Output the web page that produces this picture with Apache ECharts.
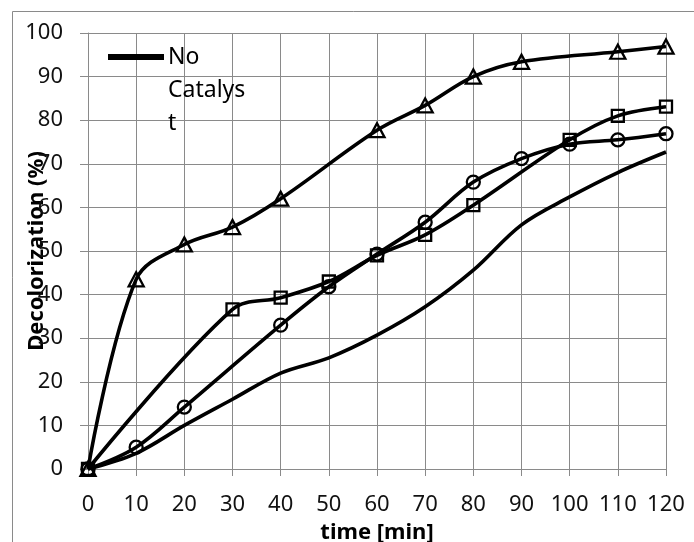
<!DOCTYPE html>
<html>
<head>
<meta charset="utf-8">
<script src="https://cdn.jsdelivr.net/npm/echarts@6/dist/echarts.min.js"></script>
<style>
  html, body { margin: 0; padding: 0; background: #fff; }
  #chart { width: 694px; height: 542px; }
</style>
</head>
<body>
<div id="chart"></div>
<script>
// Sampling times (min)
const timeNoCat = [0, 10, 20, 30, 40, 50, 60, 70, 80, 90, 100, 110, 120];
const noCatalyst = [0, 3.6, 10, 16, 22, 25.5, 30.7, 37.2, 45.6, 56, 62.4, 68, 72.7];

const timeTri = [0, 10, 20, 30, 40, 60, 70, 80, 90, 110, 120];
const triValues = [0, 43.5, 51.5, 55.5, 62, 77.7, 83.4, 90, 93.4, 95.7, 96.9];

const timeSq = [0, 30, 40, 50, 60, 70, 80, 100, 110, 120];
const sqValues = [0, 36.6, 39.3, 43, 49, 53.7, 60.5, 75.5, 81, 83.1];

const timeCirc = [0, 10, 20, 40, 50, 60, 70, 80, 90, 100, 110, 120];
const circValues = [0, 5, 14.2, 33, 41.8, 49.3, 56.6, 65.8, 71.2, 74.5, 75.5, 76.9];

const xTicks = { min: 0, max: 120, step: 10 };
const yTicks = { min: 0, max: 100, step: 10 };

const pairs = (xs, ys) => xs.map((x, i) => [x, ys[i]]);

const FONT = '"Noto Sans", "Open Sans", sans-serif';
const GRID_COLOR = '#8a8a8a';

const chart = echarts.init(document.getElementById('chart'), null, { renderer: 'canvas' });

const lineBase = {
  type: 'line',
  smooth: 0.35,
  lineStyle: { color: '#000', width: 3.6 },
  itemStyle: { color: 'transparent', borderColor: '#000', borderWidth: 2.3 },
  emphasis: { disabled: true },
  animation: false
};

chart.setOption({
  animation: false,
  backgroundColor: '#fff',
  textStyle: { fontFamily: FONT },
  graphic: [{
    type: 'rect',
    silent: true,
    z: -1,
    shape: { x: 12.5, y: 11.5, width: 760, height: 640 },
    style: { fill: 'none', stroke: GRID_COLOR, lineWidth: 1 }
  }],
  grid: { left: 88, right: 28, top: 33, bottom: 73, outerBoundsMode: 'none' },
  legend: {
    data: ['No Catalyst'],
    left: 108,
    top: -25.5,
    padding: 0,
    itemWidth: 54,
    itemHeight: 14,
    itemGap: 5,
    icon: 'path://M0,0 L54,0 L54,4 L0,4 Z',
    // two blank lines above keep the first word level with the legend line
    formatter: () => '\n\nNo\nCatalys\nt',
    textStyle: {
      fontFamily: FONT, fontSize: 23, color: '#000', lineHeight: 33
    },
    itemStyle: { color: '#000' }
  },
  xAxis: {
    type: 'value',
    min: xTicks.min, max: xTicks.max, interval: xTicks.step,
    name: 'time [min]',
    nameLocation: 'middle',
    nameGap: 53,
    nameMoveOverlap: false,
    nameTextStyle: { fontFamily: FONT, fontSize: 22, fontWeight: 'bold', color: '#000' },
    axisLine: { show: true, lineStyle: { color: GRID_COLOR, width: 1 } },
    axisTick: { show: true, length: 7, lineStyle: { color: GRID_COLOR } },
    axisLabel: { fontFamily: FONT, fontSize: 22, color: '#111', margin: 25 },
    splitLine: { show: true, lineStyle: { color: GRID_COLOR, width: 1 } }
  },
  yAxis: {
    type: 'value',
    min: yTicks.min, max: yTicks.max, interval: yTicks.step,
    name: 'Decolorization (%)',
    nameLocation: 'middle',
    nameGap: 40,
    nameMoveOverlap: false,
    nameTextStyle: { fontFamily: FONT, fontSize: 22, fontWeight: 'bold', color: '#000' },
    axisLine: { show: true, lineStyle: { color: GRID_COLOR, width: 1 } },
    axisTick: { show: true, length: 8, lineStyle: { color: GRID_COLOR } },
    axisLabel: { fontFamily: FONT, fontSize: 22, color: '#111', margin: 25 },
    splitLine: { show: true, lineStyle: { color: GRID_COLOR, width: 1 } }
  },
  series: [
    Object.assign({}, lineBase, {
      name: 'No Catalyst',
      data: pairs(timeNoCat, noCatalyst),
      showSymbol: false,
      symbol: 'none'
    }),
    Object.assign({}, lineBase, {
      name: 'Series 2',
      data: pairs(timeTri, triValues),
      symbol: 'triangle',
      symbolSize: [15, 14]
    }),
    Object.assign({}, lineBase, {
      name: 'Series 3',
      data: pairs(timeSq, sqValues),
      symbol: 'rect',
      symbolSize: 12
    }),
    Object.assign({}, lineBase, {
      name: 'Series 4',
      data: pairs(timeCirc, circValues),
      symbol: 'circle',
      symbolSize: 13
    })
  ]
});
</script>
</body>
</html>
